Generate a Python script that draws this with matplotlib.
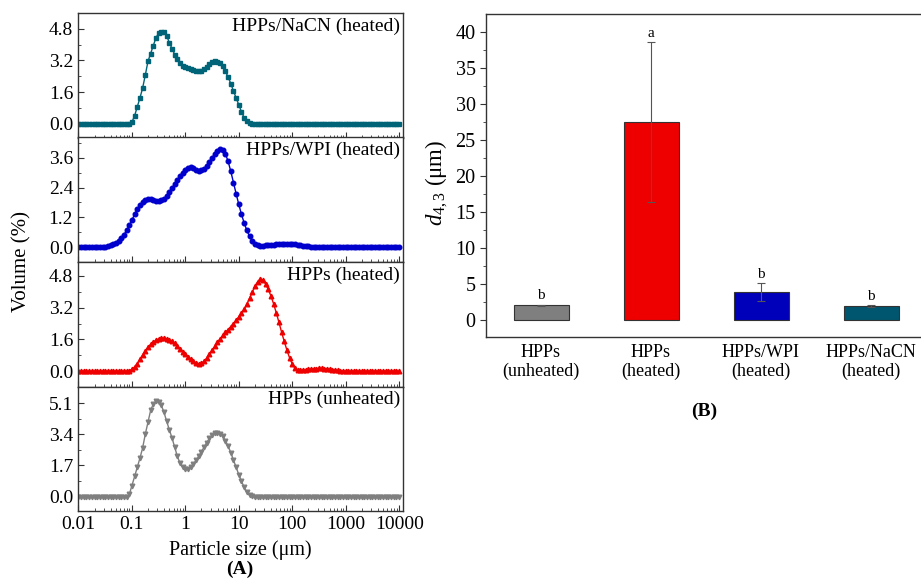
import numpy as np
import matplotlib
matplotlib.use("Agg")
import matplotlib.pyplot as plt
from matplotlib.ticker import AutoMinorLocator, FixedLocator, NullFormatter

plt.rcParams['font.family'] = ['Liberation Serif', 'DejaVu Serif']
plt.rcParams['mathtext.fontset'] = 'custom'
plt.rcParams['mathtext.rm'] = 'Liberation Serif'
plt.rcParams['mathtext.it'] = 'Liberation Serif:italic'

# size classes of the analyser (um), 20 per decade from 0.01 to 10000
size_um = np.logspace(-2, 4, 121)

# volume distributions (%)
vol_nacn = [0.0] * 20 + [
    0.08, 0.4, 0.85, 1.3, 1.8, 2.45, 3.15, 3.55, 3.95, 4.35,
    4.58, 4.66, 4.62, 4.45, 4.1, 3.8, 3.5, 3.25, 3.05, 2.93,
    2.86, 2.8, 2.75, 2.7, 2.65, 2.64, 2.68, 2.76, 2.88, 3.0,
    3.1, 3.15, 3.14, 3.06, 2.9, 2.65, 2.35, 2.03, 1.65, 1.3,
    0.95, 0.6, 0.3, 0.12, 0.03] + [0.0] * 56

vol_wpi = [0.0] * 8 + [
    0.01, 0.02, 0.03, 0.05, 0.08, 0.12, 0.18, 0.26, 0.36, 0.5,
    0.68, 0.88, 1.1, 1.32, 1.53, 1.7, 1.82, 1.9, 1.93, 1.93,
    1.9, 1.87, 1.86, 1.88, 1.95, 2.07, 2.22, 2.38, 2.54, 2.7,
    2.86, 3.0, 3.11, 3.19, 3.22, 3.18, 3.12, 3.08, 3.09, 3.16,
    3.28, 3.44, 3.6, 3.75, 3.86, 3.93, 3.9, 3.75, 3.45, 3.05,
    2.6, 2.15, 1.72, 1.32, 0.98, 0.68, 0.44, 0.26, 0.15, 0.09,
    0.07, 0.07, 0.08, 0.09, 0.1, 0.11, 0.12, 0.13, 0.13, 0.14,
    0.14, 0.14, 0.13, 0.12, 0.11, 0.09, 0.07, 0.05, 0.04, 0.03,
    0.02, 0.01] + [0.0] * 31

vol_heated = [0.0] * 19 + [
    0.02, 0.1, 0.22, 0.38, 0.6, 0.82, 1.02, 1.2, 1.35, 1.47,
    1.56, 1.62, 1.65, 1.66, 1.64, 1.58, 1.5, 1.4, 1.27, 1.13,
    0.99, 0.86, 0.74, 0.62, 0.5, 0.41, 0.37, 0.4, 0.5, 0.66,
    0.85, 1.05, 1.25, 1.45, 1.63, 1.8, 1.96, 2.1, 2.25, 2.4,
    2.56, 2.74, 2.92, 3.12, 3.38, 3.67, 3.97, 4.27, 4.5, 4.63,
    4.6, 4.4, 4.12, 3.8, 3.4, 2.95, 2.47, 1.97, 1.5, 1.06,
    0.67, 0.36, 0.15, 0.06, 0.04, 0.05, 0.07, 0.09, 0.11, 0.12,
    0.13, 0.14, 0.14, 0.13, 0.12, 0.1, 0.08, 0.06, 0.04, 0.02,
    0.01] + [0.0] * 21

vol_unheated = [0.0] * 19 + [
    0.12, 0.6, 1.1, 1.6, 2.1, 2.65, 3.4, 4.05, 4.7, 5.05,
    5.2, 5.18, 4.98, 4.6, 4.1, 3.65, 3.2, 2.7, 2.2, 1.82,
    1.6, 1.5, 1.5, 1.6, 1.78, 1.98, 2.2, 2.45, 2.7, 2.95,
    3.18, 3.35, 3.45, 3.48, 3.42, 3.28, 3.05, 2.75, 2.4, 2.0,
    1.6, 1.2, 0.85, 0.5, 0.25, 0.08, 0.02] + [0.0] * 55

# mean diameter d4,3 (um) for panel B
groups = ['HPPs\n(unheated)', 'HPPs\n(heated)', 'HPPs/WPI\n(heated)', 'HPPs/NaCN\n(heated)']
d43 = [2.0, 27.5, 3.85, 1.86]
d43_sd = [0.1, 11.1, 1.2, 0.15]
letters = ['b', 'a', 'b', 'b']

fig = plt.figure(figsize=(9.21, 5.85), dpi=100)

# ---- panel A: four stacked distributions
panels = [
    (vol_nacn, 'HPPs/NaCN (heated)', '#006478', 's', [0, 1.6, 3.2, 4.8], (-0.7, 5.6)),
    (vol_wpi, 'HPPs/WPI (heated)', '#0000CC', 'o', [0, 1.2, 2.4, 3.6], (-0.59, 4.41)),
    (vol_heated, 'HPPs (heated)', '#EE0000', '^', [0, 1.6, 3.2, 4.8], (-0.77, 5.5)),
    (vol_unheated, 'HPPs (unheated)', '#7F7F7F', 'v', [0, 1.7, 3.4, 5.1], (-0.78, 6.0)),
]
left, right = 78 / 921, 403 / 921
top_px, bot_px = 13, 511
h_px = (bot_px - top_px) / 4
xticks = [0.01, 0.1, 1, 10, 100, 1000, 10000]
xlabels = ['0.01', '0.1', '1', '10', '100', '1000', '10000']

for k, (vals, name, col, mk, yt, yl) in enumerate(panels):
    y0 = 1 - (top_px + (k + 1) * h_px) / 585
    ax = fig.add_axes([left, y0, right - left, h_px / 585])
    ax.plot(size_um, vals, color=col, marker=mk, ms=3.3, lw=1.0)
    ax.set_xscale('log')
    ax.set_xlim(0.0098, 11800)
    ax.set_ylim(*yl)
    ax.xaxis.set_major_locator(FixedLocator(xticks))
    ax.xaxis.set_minor_locator(FixedLocator([m * 10.0 ** e for e in range(-2, 4) for m in range(2, 10)]))
    ax.set_yticks(yt)
    ax.set_yticklabels(['%.1f' % v for v in yt])
    ax.yaxis.set_minor_locator(AutoMinorLocator(2))
    ax.tick_params(which='both', direction='in', top=False, right=False, labelsize=14, color='#333333')
    ax.tick_params(which='major', length=4)
    ax.tick_params(which='minor', length=2.5)
    if k == 3:
        ax.set_xticklabels(xlabels)
    else:
        ax.set_xticklabels([])
    ax.xaxis.set_minor_formatter(NullFormatter())
    for s in ax.spines.values():
        s.set_color('#333333')
        s.set_linewidth(1.0)
    ax.text(0.99, 0.965, name, transform=ax.transAxes, ha='right', va='top', fontsize=14)

fig.text(22 / 921, 1 - 262 / 585, 'Volume (%)', rotation=90, ha='center', va='center', fontsize=15)
fig.text(240 / 921, 1 - 550 / 585, 'Particle size (\u03bcm)', ha='center', va='center', fontsize=14.5)
fig.text(240 / 921, 1 - 569 / 585, '(A)', ha='center', va='center', fontsize=14, fontweight='bold')

# ---- panel B: d4,3 bars
bar_cols = ['#7F7F7F', '#EE0000', '#0000BB', '#00566E']
ax2 = fig.add_axes([486 / 921, 1 - 337 / 585, 440 / 921, 323 / 585])
xpos = np.arange(len(groups))
ax2.bar(xpos, d43, width=0.5, color=bar_cols, edgecolor='#333333', linewidth=0.8)
ax2.errorbar(xpos, d43, yerr=d43_sd, fmt='none', ecolor='#555555', elinewidth=0.8, capsize=3, capthick=0.8)
for i, lt in enumerate(letters):
    ax2.text(xpos[i], d43[i] + d43_sd[i] + 1.2, lt, ha='center', va='center', fontsize=11)
ax2.set_xlim(-0.5, 3.5)
ax2.set_ylim(-2.4, 42.45)
ax2.set_xticks(xpos)
ax2.set_xticklabels(groups, fontsize=13, linespacing=1.15)
ax2.set_yticks(range(0, 41, 5))
ax2.yaxis.set_minor_locator(AutoMinorLocator(2))
ax2.tick_params(axis='x', length=0, pad=5)
ax2.tick_params(axis='y', which='both', direction='out', labelsize=14.5, color='#333333')
ax2.tick_params(axis='y', which='major', length=4)
ax2.tick_params(axis='y', which='minor', length=2.5)
for s in ax2.spines.values():
    s.set_color('#333333')
    s.set_linewidth(1.0)
fig.text(437 / 921, 1 - 183 / 585, '$d_{\\mathit{4,3}}$ (\u03bcm)', rotation=90,
         ha='center', va='center', fontsize=16.5)
fig.text(704 / 921, 1 - 411 / 585, '(B)', ha='center', va='center', fontsize=14, fontweight='bold')

fig.savefig('out.png', dpi=100)
